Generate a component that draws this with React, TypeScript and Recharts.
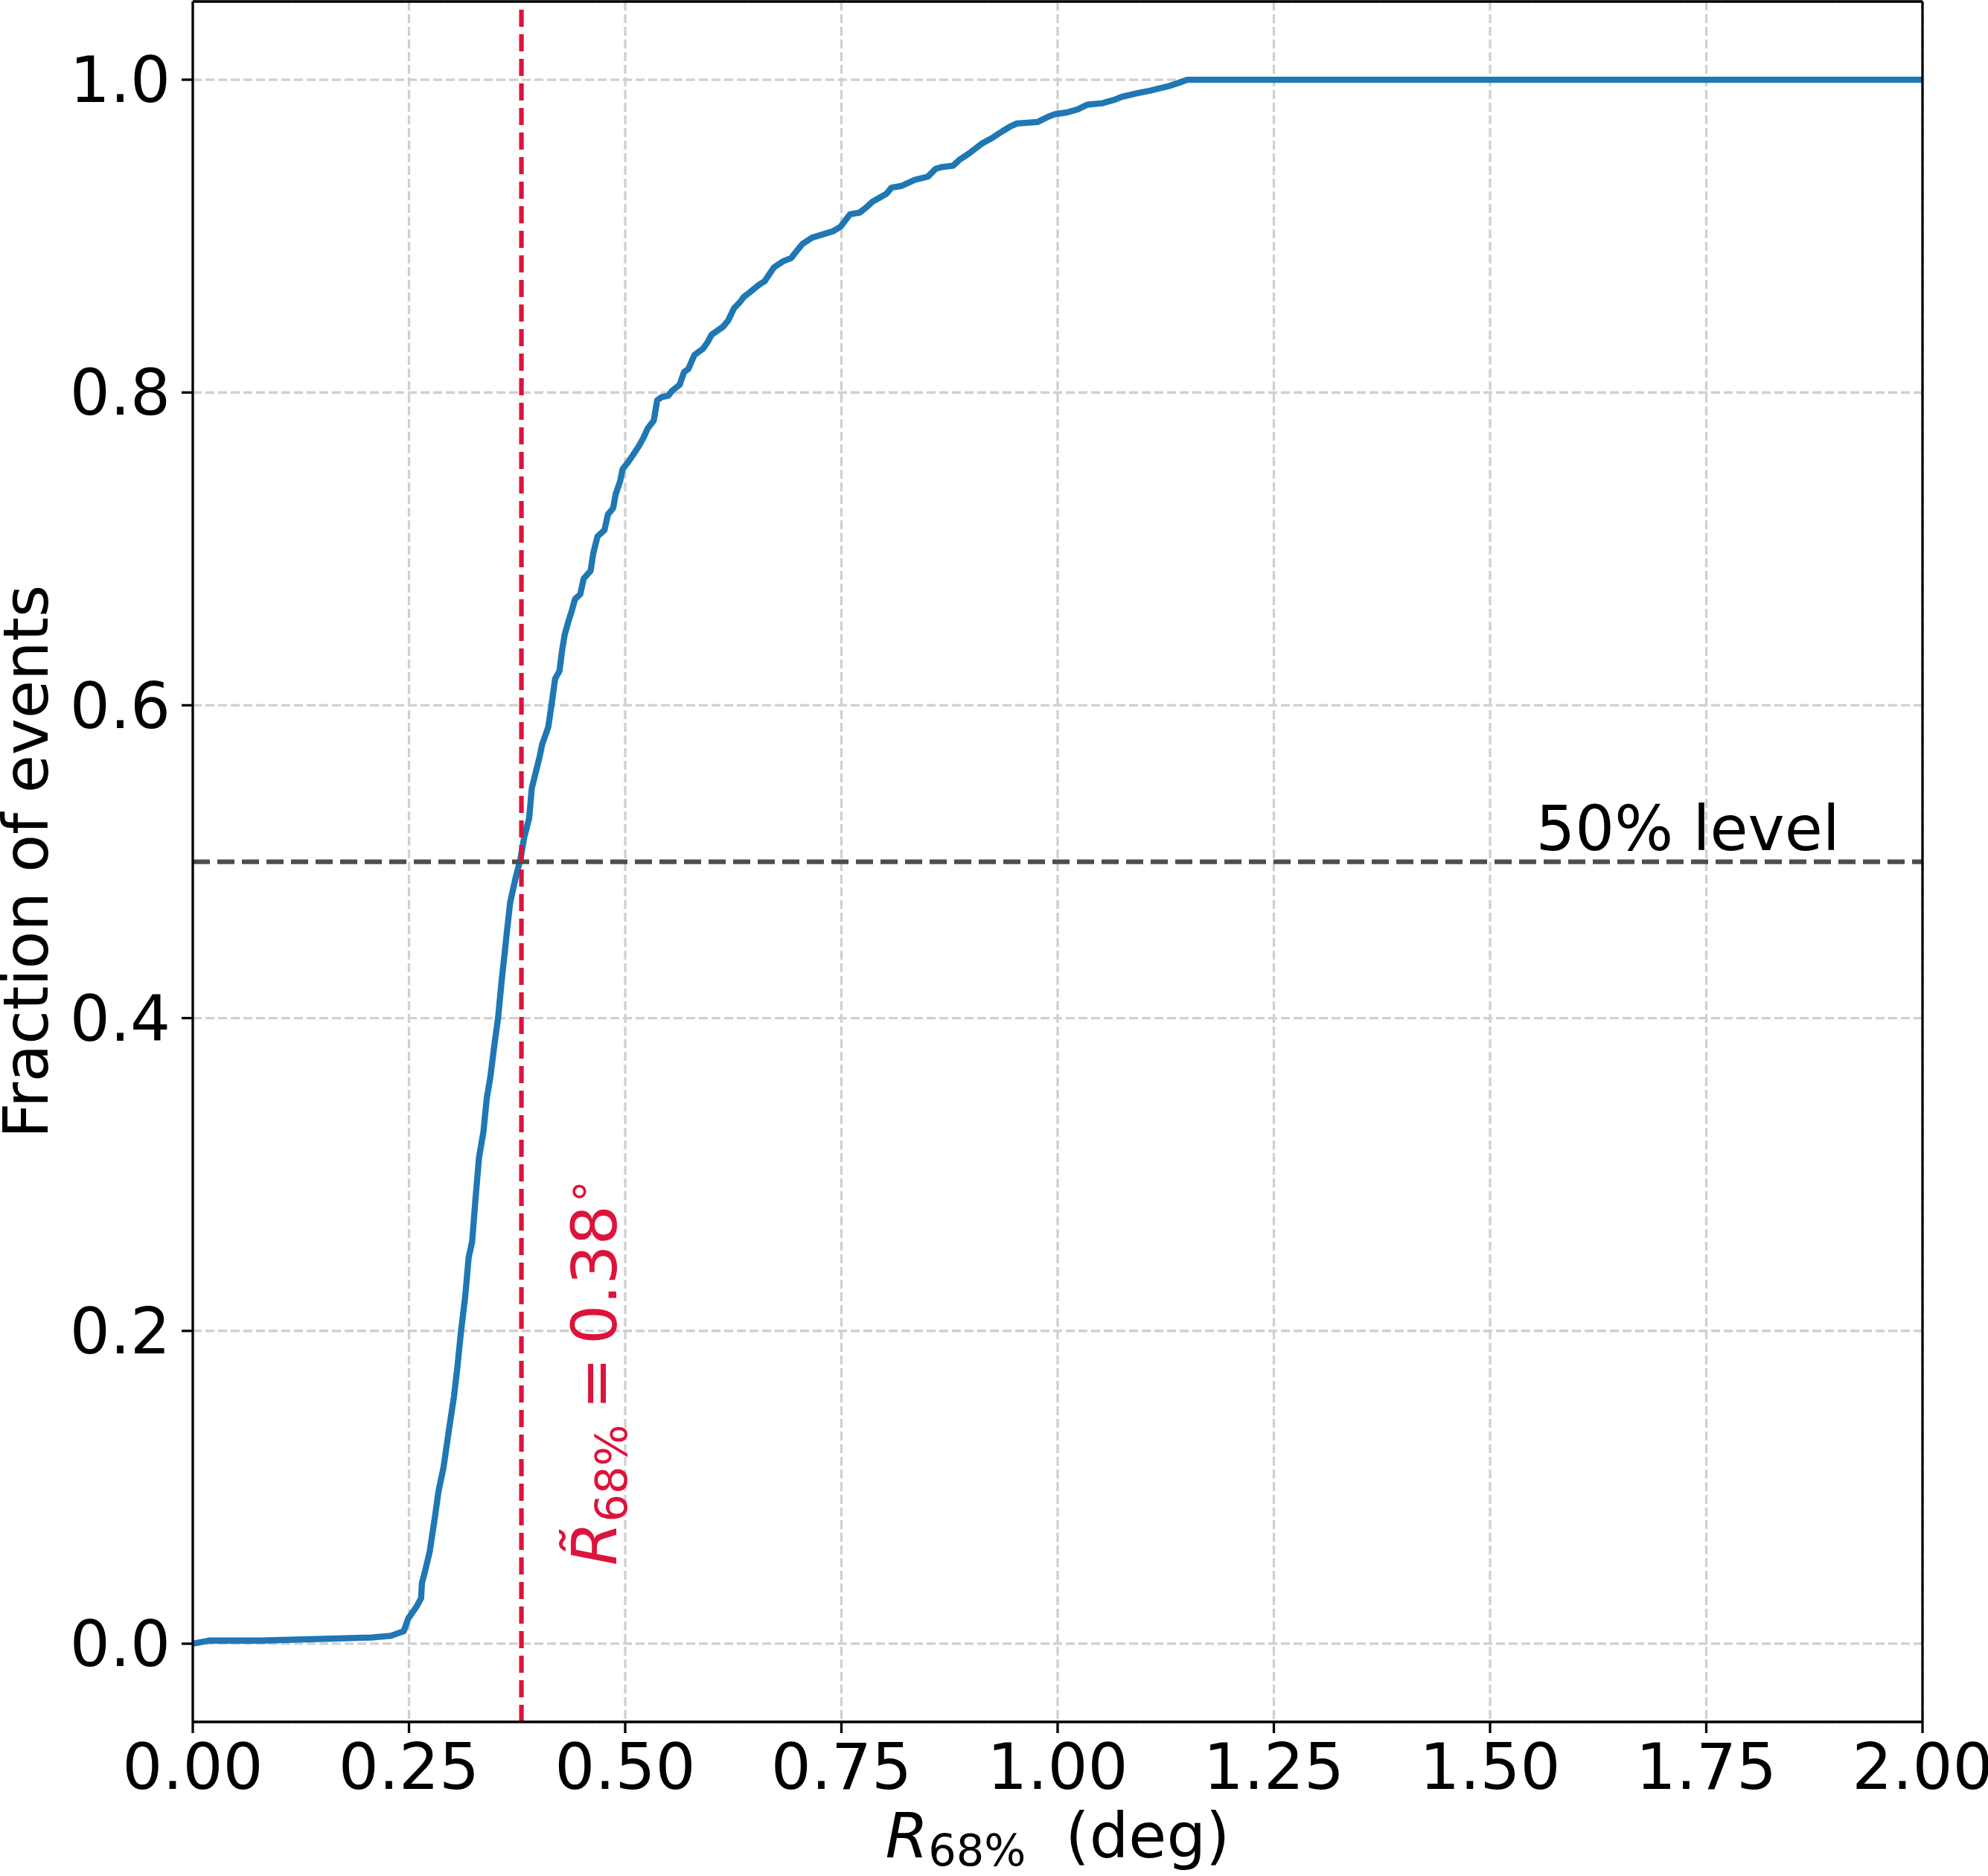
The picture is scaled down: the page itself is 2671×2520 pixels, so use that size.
import { LineChart, Line, XAxis, YAxis, CartesianGrid, ReferenceLine, ReferenceDot, Label } from 'recharts'

document.body.style.margin = '0'

const FONT = "'DejaVu Sans', sans-serif"

const radiusDeg = [
  0.0, 0.019, 0.08, 0.207, 0.229, 0.244, 0.249, 0.259, 0.264, 0.265, 0.268, 0.274, 0.28, 0.284,
  0.29, 0.296, 0.302, 0.306, 0.31, 0.315, 0.319, 0.323, 0.327, 0.331, 0.336, 0.34, 0.344, 0.349,
  0.353, 0.357, 0.363, 0.367, 0.373, 0.379, 0.383, 0.389, 0.392, 0.401, 0.404, 0.411, 0.415, 0.419,
  0.424, 0.427, 0.43, 0.434, 0.438, 0.442, 0.448, 0.452, 0.46, 0.463, 0.468, 0.476, 0.48, 0.486,
  0.489, 0.494, 0.497, 0.504, 0.509, 0.516, 0.521, 0.526, 0.533, 0.537, 0.542, 0.55, 0.554, 0.563,
  0.568, 0.573, 0.58, 0.59, 0.595, 0.6, 0.613, 0.619, 0.626, 0.633, 0.637, 0.644, 0.655, 0.661,
  0.672, 0.683, 0.692, 0.699, 0.705, 0.716, 0.74, 0.749, 0.76, 0.771, 0.778, 0.786, 0.802, 0.808,
  0.819, 0.835, 0.85, 0.859, 0.865, 0.879, 0.887, 0.898, 0.912, 0.925, 0.936, 0.945, 0.953, 0.977,
  0.988, 0.997, 1.01, 1.023, 1.034, 1.052, 1.065, 1.074, 1.089, 1.107, 1.129, 1.14, 1.15, 2.0,
]
const fractionEvents = [
  0.0, 0.002, 0.002, 0.004, 0.005, 0.008, 0.016, 0.024, 0.029, 0.039, 0.045, 0.059, 0.081, 0.097,
  0.113, 0.136, 0.158, 0.177, 0.199, 0.222, 0.247, 0.257, 0.285, 0.311, 0.327, 0.349, 0.362, 0.384,
  0.4, 0.423, 0.454, 0.474, 0.489, 0.502, 0.515, 0.528, 0.547, 0.567, 0.575, 0.586, 0.601, 0.617,
  0.622, 0.635, 0.645, 0.653, 0.66, 0.668, 0.671, 0.681, 0.686, 0.697, 0.708, 0.712, 0.722, 0.726,
  0.735, 0.743, 0.751, 0.756, 0.76, 0.766, 0.771, 0.777, 0.782, 0.795, 0.797, 0.798, 0.801, 0.805,
  0.813, 0.815, 0.824, 0.828, 0.832, 0.837, 0.842, 0.846, 0.854, 0.858, 0.861, 0.864, 0.869, 0.871,
  0.88, 0.884, 0.886, 0.891, 0.895, 0.899, 0.903, 0.906, 0.914, 0.915, 0.918, 0.922, 0.927, 0.931,
  0.932, 0.936, 0.938, 0.943, 0.944, 0.945, 0.949, 0.953, 0.959, 0.963, 0.967, 0.97, 0.972, 0.973,
  0.976, 0.978, 0.979, 0.981, 0.984, 0.985, 0.987, 0.989, 0.991, 0.993, 0.996, 0.998, 1.0, 1.0,
]

const xTicks = [0, 0.25, 0.5, 0.75, 1.0, 1.25, 1.5, 1.75, 2.0]
const yTicks = [0, 0.2, 0.4, 0.6, 0.8, 1.0]
const medianR68 = 0.38
const halfLevel = 0.5

const data = radiusDeg.map((r, i) => ({ r, frac: fractionEvents[i] }))

const tickStyle = { fill: '#000', fontSize: 85, fontFamily: FONT }
const crimson = '#DC143C'

function XTitle(props: any) {
  const { x, y, width } = props.viewBox
  return (
    <text x={x + width / 2} y={y + 182} textAnchor="middle" fontSize={83} fontFamily={FONT} fill="#000">
      <tspan fontStyle="italic">R</tspan>
      <tspan fontSize={59} dy={11}>68%</tspan>
      <tspan dy={-11} dx={53}>(deg)</tspan>
    </text>
  )
}

function YTitle(props: any) {
  const { y, height } = props.viewBox
  const cy = y + height / 2
  return (
    <text transform={`translate(64,${cy}) rotate(-90)`} textAnchor="middle" fontSize={83} fontFamily={FONT} fill="#000">
      Fraction of events
    </text>
  )
}

function LevelText(props: any) {
  const { x, y } = props.viewBox
  return (
    <text x={x + 5} y={y - 16} textAnchor="end" fontSize={83} fontFamily={FONT} fill="#000">
      50% level
    </text>
  )
}

function MedianText(props: any) {
  const { x, y } = props.viewBox
  return (
    <text transform={`translate(${x + 81},${y}) rotate(-90)`} fontSize={84} fontFamily={FONT} fill={crimson}>
      <tspan fontStyle="italic">R&#771;</tspan>
      <tspan fontSize={59} dy={14}>68%</tspan>
      <tspan dy={-14} dx={20}>=</tspan>
      <tspan dx={17}>0.38</tspan>
      <tspan fontSize={59} dy={-31}>&#8728;</tspan>
    </text>
  )
}

export default function App() {
  return (
    <div style={{ background: '#fff', width: 2671, height: 2520 }}>
      <LineChart width={2671} height={2520} data={data} margin={{ top: 2, right: 88, bottom: 0, left: 0 }}>
        <CartesianGrid stroke="#d0d0d0" strokeWidth={3.3} strokeDasharray="12 5" />
        <XAxis
          dataKey="r" type="number" domain={[0, 2]} ticks={xTicks} allowDataOverflow
          tickFormatter={(v: number) => v.toFixed(2)} height={207}
          stroke="#000" axisLine={{ stroke: '#000', strokeWidth: 3.3 }} tickLine={{ stroke: '#000', strokeWidth: 3.3 }}
          tickSize={15} tickMargin={15} tick={tickStyle}
        >
          <Label content={XTitle} />
        </XAxis>
        <YAxis
          type="number" domain={[-0.05, 1.05]} ticks={yTicks} allowDataOverflow
          tickFormatter={(v: number) => v.toFixed(1)} width={259}
          stroke="#000" axisLine={{ stroke: '#000', strokeWidth: 3.3 }} tickLine={{ stroke: '#000', strokeWidth: 3.3 }}
          tickSize={15} tickMargin={15} tick={tickStyle}
        >
          <Label content={YTitle} />
        </YAxis>
        <Line
          dataKey="frac" type="linear" stroke="#1f77b4" strokeWidth={8.3} dot={false}
          strokeLinejoin="round" isAnimationActive={false}
        />
        <ReferenceLine y={halfLevel} stroke="#4d4d4d" strokeWidth={6.25} strokeDasharray="23 10" />
        <ReferenceLine x={medianR68} stroke={crimson} strokeWidth={6.25} strokeDasharray="23 10" />
        <ReferenceLine y={1.05} stroke="#000" strokeWidth={3.3} />
        <ReferenceLine x={2} stroke="#000" strokeWidth={3.3} />
        <ReferenceDot x={1.9} y={halfLevel} r={0} fill="none" stroke="none" label={<LevelText />} />
        <ReferenceDot x={0.42} y={0.05} r={0} fill="none" stroke="none" label={<MedianText />} />
      </LineChart>
    </div>
  )
}
